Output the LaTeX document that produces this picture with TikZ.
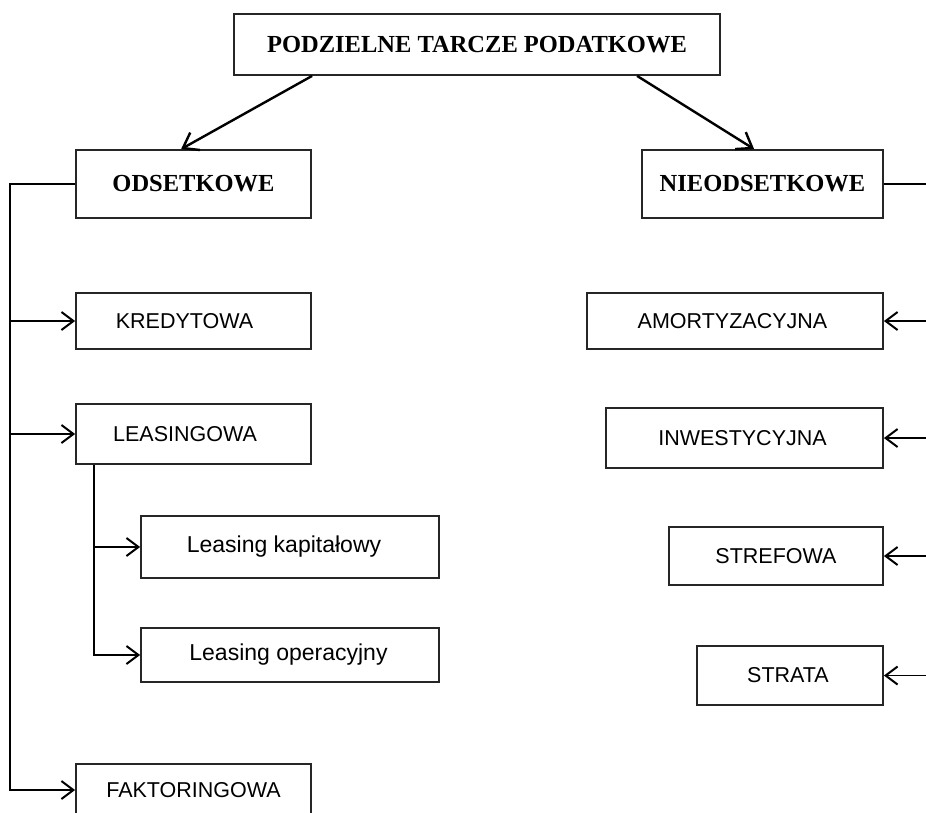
\documentclass[tikz,border=0pt]{standalone}
\usepackage{fontspec}
\setmainfont{Liberation Serif}
\newfontfamily\uisans{Liberation Sans}
\usetikzlibrary{arrows.meta}

\tikzset{
  box/.style={draw=black!85, line width=1.8pt, rectangle, inner sep=0pt},
  headbox/.style={box, font=\bfseries\fontsize{24.5}{28}\selectfont},
  capsbox/.style={box, font=\uisans\fontsize{21.5}{26}\selectfont},
  lowbox/.style={box, font=\uisans\fontsize{23}{27}\selectfont},
  link/.style={draw=black, line width=1.6pt},
  arr/.style={link, -{Straight Barb[length=12pt,width=18pt,line width=2pt]}},
  toparr/.style={draw=black, line width=2.4pt, -{Straight Barb[length=14pt,width=20pt,line width=2.4pt]}}
}
% nudge a label left inside its box (shift = half the given length)
\newcommand{\leftnudge}[1]{\hspace*{-#1}}

\begin{document}
\begin{tikzpicture}[x=1pt,y=-1pt]
  \useasboundingbox (0,0) rectangle (926,812);
  \clip (0,0) rectangle (926,812);
  \fill[white] (0,0) rectangle (926,812);

  % root and the two main groups
  \node[headbox, minimum width=486pt, minimum height=61pt] (root) at (477,44.5) {PODZIELNE TARCZE PODATKOWE};
  \node[headbox, minimum width=235pt, minimum height=68pt] (ods) at (193.5,184) {ODSETKOWE};
  \node[headbox, minimum width=241pt, minimum height=68pt] (nieods) at (762.5,184) {NIEODSETKOWE};

  % interest-bearing shields
  \node[capsbox, minimum width=235pt, minimum height=56pt] (kred) at (193.5,321) {\leftnudge{18pt}KREDYTOWA};
  \node[capsbox, minimum width=235pt, minimum height=60pt] (leas) at (193.5,434) {\leftnudge{17pt}LEASINGOWA};
  \node[lowbox, minimum width=298pt, minimum height=62pt] (lkap) at (290,547) {\leftnudge{12pt}Leasing kapitałowy};
  \node[lowbox, minimum width=298pt, minimum height=54pt] (lop) at (290,655) {\leftnudge{3pt}Leasing operacyjny};
  \node[capsbox, minimum width=235pt, minimum height=52pt] (fakt) at (193.5,790) {FAKTORINGOWA};

  % non-interest shields
  \node[capsbox, minimum width=296pt, minimum height=56pt] (amort) at (735,321) {\leftnudge{5pt}AMORTYZACYJNA};
  \node[capsbox, minimum width=277pt, minimum height=60pt] (inw) at (744.5,438) {\leftnudge{4pt}INWESTYCYJNA};
  \node[capsbox, minimum width=214pt, minimum height=58pt] (stref) at (776,556) {STREFOWA};
  \node[capsbox, minimum width=186pt, minimum height=59pt] (strata) at (790,675.5) {\leftnudge{4pt}STRATA};

  % root to groups
  \draw[toparr] ([xshift=79pt]root.south west) -- ([xshift=106pt]ods.north west);
  \draw[toparr] ([xshift=404pt]root.south west) -- ([xshift=113pt]nieods.north west);

  % left trunk
  \coordinate (lt) at (10,184);
  \draw[arr] (ods.west) -- (lt) |- (fakt.west);
  \draw[arr] (lt |- kred.west) -- (kred.west);
  \draw[arr] (lt |- leas.west) -- (leas.west);

  % leasing sub-trunk
  \coordinate (st) at ([xshift=19pt]leas.south west);
  \draw[arr] (st) |- (lop.west);
  \draw[arr] (st |- lkap.west) -- (lkap.west);

  % right trunk
  \coordinate (rt) at (926,184);
  \draw[link] (nieods.east) -- (rt);
  \draw[arr] (rt |- amort.east) -- (amort.east);
  \draw[arr] (rt |- inw.east) -- (inw.east);
  \draw[arr] (rt |- stref.east) -- (stref.east);
  \draw[arr] (rt |- strata.east) -- (strata.east);
\end{tikzpicture}
\end{document}
